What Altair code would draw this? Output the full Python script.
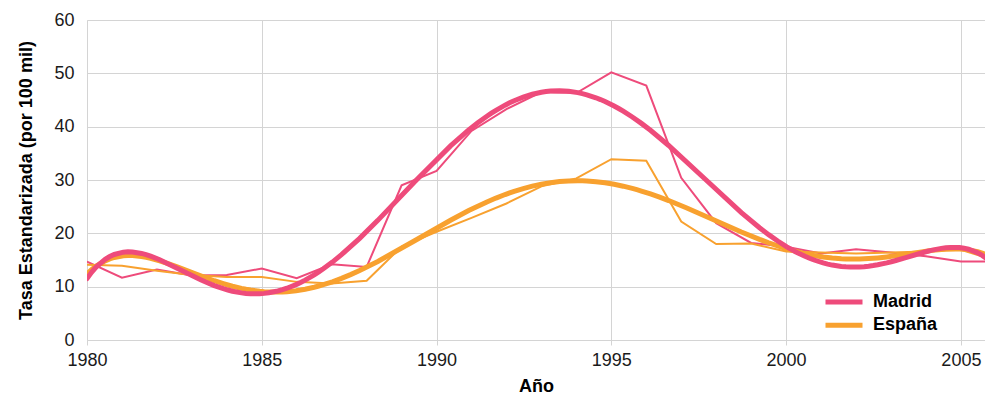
import altair as alt
import pandas as pd

# Tasa estandarizada por 100 mil habitantes, 1980-2006
years = list(range(1980, 2007))
madrid = [14.7, 11.7, 13.2, 12.1, 12.2, 13.4, 11.6, 14.2, 13.7, 29.0,
          31.7, 39.2, 43.3, 46.5, 46.3, 50.2, 47.7, 30.4, 21.9, 18.2,
          17.5, 16.2, 17.0, 16.4, 15.7, 14.7, 14.7]
espana = [14.1, 13.9, 13.0, 12.2, 11.8, 11.8, 10.9, 10.6, 11.1, 17.5,
          20.3, 22.9, 25.6, 28.8, 30.3, 33.9, 33.6, 22.2, 18.0, 18.1,
          16.6, 16.4, 16.2, 16.4, 16.6, 16.9, 14.9]
series = ["Madrid", "España"]
colors = ["#EE4B7B", "#F8A12F"]
x_ticks = [1980, 1985, 1990, 1995, 2000, 2005]
y_ticks = [0, 10, 20, 30, 40, 50, 60]

df = pd.concat([
    pd.DataFrame({"Año": years, "Tasa": madrid, "Serie": "Madrid"}),
    pd.DataFrame({"Año": years, "Tasa": espana, "Serie": "España"}),
])

FONT = "Liberation Sans"

legend = alt.Legend(
    title=None, orient="none", legendX=736, legendY=272,
    symbolType="stroke", symbolStrokeWidth=5, symbolSize=1369,
    clipHeight=20, rowPadding=3.3, labelOffset=8,
    labelFont=FONT, labelFontSize=18, labelFontWeight="bold",
    labelColor="#000000",
)

x_enc = alt.X(
    "Año:Q",
    scale=alt.Scale(domain=[1980, 2005.69], nice=False, zero=False),
    axis=alt.Axis(values=x_ticks, format="d", title="Año", tickSize=5,
                  labelPadding=6, titlePadding=8),
)
y_enc = alt.Y(
    "Tasa:Q",
    scale=alt.Scale(domain=[0, 60], nice=False),
    axis=alt.Axis(values=y_ticks, title="Tasa Estandarizada (por 100 mil)",
                  ticks=False, labelPadding=13, titlePadding=18),
)
color_enc = alt.Color(
    "Serie:N",
    scale=alt.Scale(domain=series, range=colors),
    sort=series,
    legend=legend,
)

base = alt.Chart(df)

raw = base.mark_line(strokeWidth=2, clip=True).encode(
    x=x_enc, y=y_enc, color=color_enc, detail="Serie:N",
)

# Sixth-order polynomial trend for each series
trend = base.transform_regression(
    "Año", "Tasa", groupby=["Serie"], method="poly", order=6,
    extent=[1980, 2006],
).mark_line(strokeWidth=5, clip=True, strokeCap="round").encode(
    x=x_enc, y=y_enc, color=color_enc,
    order=alt.Order("Año:Q"),
)

trend_es = trend.transform_filter(alt.datum.Serie == "España")
trend_md = trend.transform_filter(alt.datum.Serie == "Madrid")

chart = alt.layer(raw, trend_es, trend_md).properties(
    width=898, height=320,
    autosize=alt.AutoSizeParams(type="none"),
    padding={"left": 87, "top": 20, "right": 0, "bottom": 55},
).configure_view(
    stroke=None,
).configure_axis(
    labelFont=FONT, labelFontSize=18, labelColor="#1a1a1a",
    labelFlush=False,
    titleFont=FONT, titleFontSize=18, titleFontWeight="bold",
    titleColor="#000000",
    gridColor="#d4d4d4", gridWidth=1,
    domainColor="#d4d4d4", tickColor="#d4d4d4",
)

chart.save("out.html", embed_options={"renderer": "svg", "actions": False})
